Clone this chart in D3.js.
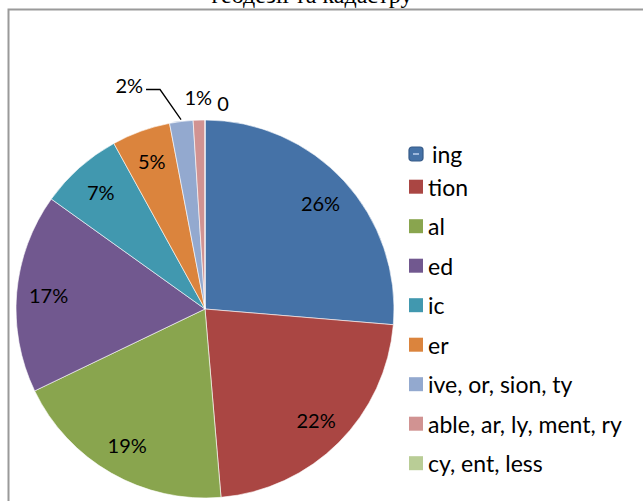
<!DOCTYPE html>
<html>
<head>
<meta charset="utf-8">
<script src="https://cdn.jsdelivr.net/npm/d3@7"></script>
<style>
    body { margin: 0; background: #fff; }
    text { font-family: Lato, "Noto Sans", sans-serif; }
</style>
</head>
<body>
<div id="chart"></div>
<script>
// suffix shares (percent)
var suffixes = ["ing", "tion", "al", "ed", "ic", "er",
                "ive, or, sion, ty", "able, ar, ly, ment, ry", "cy, ent, less"];
var shares = [26.3, 22.3, 19.2, 17.0, 7.1, 5.0, 2.0, 1.0, 0];
var colours = ["#4572A7", "#AA4643", "#89A54E", "#71588F", "#4198AF",
               "#DB843D", "#93A9CF", "#D19392", "#B9CD96"];
var titleText = "геодезії та кадастру";

var WIDTH = 643, HEIGHT = 501;
var cx = 205, cy = 309, R = 189;

var svg = d3.select("#chart").append("svg")
    .attr("width", WIDTH)
    .attr("height", HEIGHT);

// title, only its last line shows above the frame
svg.append("text")
    .attr("x", 312)
    .attr("y", 3)
    .attr("text-anchor", "middle")
    .style("font-family", "'Liberation Serif', 'Times New Roman', serif")
    .style("font-size", "24px")
    .text(titleText);

// chart frame, runs off the right and bottom edge
svg.append("rect")
    .attr("x", 8.5).attr("y", 9.5)
    .attr("width", 700).attr("height", 600)
    .attr("fill", "none")
    .attr("stroke", "#9a9a9a")
    .attr("stroke-width", 2);

var colour = d3.scaleOrdinal().domain(suffixes).range(colours);
var total = d3.sum(shares);

var pie = d3.pie().sort(null).value(function(d) { return d.value; });
var arcs = pie(suffixes.map(function(s, i) { return {name: s, value: shares[i]}; }));

var arc = d3.arc().innerRadius(0).outerRadius(R);
var labelArc = d3.arc().innerRadius(157).outerRadius(157);

var g = svg.append("g").attr("transform", "translate(" + cx + "," + cy + ")");

g.selectAll("path.slice")
    .data(arcs)
    .enter().append("path")
    .attr("class", "slice")
    .attr("d", arc)
    .attr("fill", function(d) { return colour(d.data.name); })
    .attr("stroke", "#fff")
    .attr("stroke-width", 0.6);

function polar(a, r) {
    return [r * Math.sin(a), -r * Math.cos(a)];
}

function pctText(d) {
    var p = Math.round(d.data.value / total * 100);
    return p === 0 ? "0" : p + "%";
}

arcs.forEach(function(d, i) {
    var share = d.data.value / total;
    var mid = (d.startAngle + d.endAngle) / 2;
    if (share >= 0.03) {
        var c = labelArc.centroid(d);
        g.append("text")
            .attr("x", c[0]).attr("y", c[1])
            .attr("text-anchor", "middle")
            .attr("dominant-baseline", "central")
            .style("font-size", "20px")
            .text(pctText(d));
    } else if (share >= 0.015) {
        // leader line pulled out to the left
        var p0 = polar(mid, R + 2);
        var p1 = [p0[0] - 21, p0[1] - 30];
        var p2 = [p1[0] - 14, p1[1]];
        g.append("polyline")
            .attr("points", [p0, p1, p2].map(function(p) { return p.join(","); }).join(" "))
            .attr("fill", "none")
            .attr("stroke", "#000")
            .attr("stroke-width", 1.3);
        g.append("text")
            .attr("x", p2[0] - 3).attr("y", p2[1] - 5)
            .attr("text-anchor", "end")
            .attr("dominant-baseline", "central")
            .style("font-size", "20px")
            .text(pctText(d));
    } else if (share > 0) {
        var q = polar(mid, 212);
        g.append("text")
            .attr("x", q[0]).attr("y", q[1])
            .attr("text-anchor", "middle")
            .attr("dominant-baseline", "central")
            .style("font-size", "20px")
            .text(pctText(d));
    } else {
        var z = polar(mid, 206);
        g.append("text")
            .attr("x", z[0] + 18).attr("y", z[1])
            .attr("text-anchor", "middle")
            .attr("dominant-baseline", "central")
            .style("font-size", "20px")
            .text(pctText(d));
    }
});

// legend
var legendY = function(i) { return i === 0 ? 154 : 186.7 + (i - 1) * 39.5; };
var legend = svg.append("g").attr("transform", "translate(409,0)");

var item = legend.selectAll("g.item")
    .data(suffixes)
    .enter().append("g")
    .attr("class", "item")
    .attr("transform", function(d, i) { return "translate(0," + legendY(i) + ")"; });

item.append("rect")
    .attr("x", 0).attr("y", -7)
    .attr("width", 14).attr("height", 14)
    .attr("rx", function(d, i) { return i === 0 ? 3 : 0; })
    .attr("fill", function(d) { return colour(d); })
    .attr("stroke", function(d, i) { return i === 0 ? "#365a87" : "none"; })
    .attr("stroke-width", 1.2);

item.filter(function(d, i) { return i === 0; })
    .append("line")
    .attr("x1", 4).attr("x2", 10)
    .attr("y1", 0).attr("y2", 0)
    .attr("stroke", "#9db8dc")
    .attr("stroke-width", 2);

item.append("text")
    .attr("x", function(d, i) { return i === 0 ? 23 : 19; })
    .attr("y", 0)
    .attr("dominant-baseline", "central")
    .style("font-size", "23px")
    .text(function(d) { return d; });
</script>
</body>
</html>
